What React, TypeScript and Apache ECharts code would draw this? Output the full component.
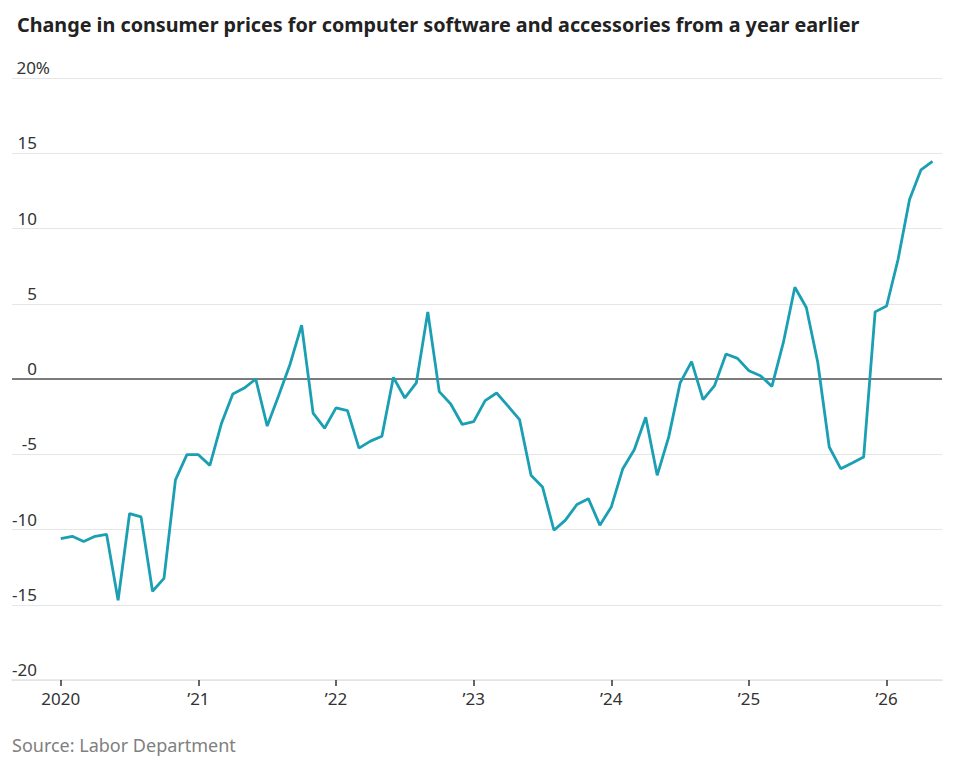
import React, { useEffect, useRef } from "react";
import * as echarts from "echarts";

const TITLE = "Change in consumer prices for computer software and accessories from a year earlier";
const SOURCE = "Source: Labor Department";

// Monthly year-over-year change (%), Jan 2020 – May 2026
const START_YEAR = 2020;
const values: number[] = [
  -10.6, -10.45, -10.8, -10.45, -10.33, -14.7, -8.94, -9.16, -14.1, -13.25, -6.7, -5.03,
  -5.03, -5.74, -2.98, -0.99, -0.6, 0.0, -3.13, -1.1, 1.0, 3.58, -2.27, -3.27,
  -1.92, -2.1, -4.59, -4.13, -3.8, 0.11, -1.26, -0.26, 4.46, -0.84, -1.66, -3.02,
  -2.83, -1.44, -0.93, -1.8, -2.7, -6.4, -7.17, -10.05, -9.38, -8.34, -7.95, -9.71,
  -8.5, -5.96, -4.7, -2.54, -6.4, -3.86, -0.26, 1.15, -1.37, -0.44, 1.66, 1.37,
  0.55, 0.22, -0.49, 2.43, 6.1, 4.75, 1.1, -4.52, -5.96, -5.58, -5.19, 4.46,
  4.85, 7.95, 11.92, 13.9, 14.46,
];

const yearTickLabels: string[] = ["2020", "\u201921", "\u201922", "\u201923", "\u201924", "\u201925", "\u201926"];

export default function App() {
  const ref = useRef<HTMLDivElement>(null);

  useEffect(() => {
    if (!ref.current) return;
    const chart = echarts.init(ref.current, undefined, { renderer: "svg" });
    const seriesData = values.map((v, i) => [i, v]);
    const yearTicks = yearTickLabels.map((_, k) => k * 12);
    const font = "'Noto Sans', sans-serif";

    chart.setOption({
      animation: false,
      backgroundColor: "#ffffff",
      title: {
        text: TITLE,
        left: 12,
        top: 9,
        textStyle: { fontFamily: font, fontSize: 19.75, fontWeight: "bold", color: "#222222" },
      },
      graphic: [
        {
          type: "text",
          left: 12,
          top: 736,
          style: { text: SOURCE, fontFamily: font, fontSize: 18, fill: "#808080" },
        },
      ],
      grid: { left: 12, right: 25, top: 78, bottom: 89, containLabel: false },
      xAxis: {
        type: "value",
        min: -4.25,
        max: 76.83,
        splitLine: { show: false },
        axisLine: { show: true, onZero: false, lineStyle: { color: "#e3e3e3", width: 1.5 } },
        axisTick: {
          show: true,
          customValues: yearTicks,
          length: 6,
          lineStyle: { color: "#333333", width: 1.5 },
        },
        axisLabel: {
          customValues: yearTicks,
          formatter: (v: number) => yearTickLabels[Math.round(v / 12)] ?? "",
          fontFamily: font,
          fontSize: 17,
          color: "#333333",
          margin: 10,
        },
      },
      yAxis: {
        type: "value",
        min: -20,
        max: 20,
        interval: 5,
        axisLine: { show: false },
        axisTick: { show: false },
        splitLine: { show: true, lineStyle: { color: "#e6e6e6", width: 1 } },
        axisLabel: {
          inside: true,
          align: "right",
          verticalAlign: "bottom",
          margin: 38,
          padding: [0, 0, 2, 0],
          fontFamily: font,
          fontSize: 17,
          color: "#333333",
          formatter: (v: number) => (v === 20 ? "20%" : String(v) + "{h| }"),
          rich: {
            h: { width: 13, fontFamily: font, fontSize: 17 },
          },
        },
      },
      series: [
        {
          type: "line",
          data: seriesData,
          showSymbol: false,
          symbol: "none",
          lineStyle: { color: "#1a9fb3", width: 2.8 },
          z: 3,
          markLine: {
            silent: true,
            symbol: "none",
            label: { show: false },
            lineStyle: { color: "#555555", width: 1.5, type: "solid" },
            data: [{ yAxis: 0 }],
            z: 2,
          },
        },
      ],
    });

    return () => chart.dispose();
  }, []);

  return (
    <div
      ref={ref}
      style={{ position: "fixed", left: 0, top: 0, width: 967, height: 769 }}
    />
  );
}
